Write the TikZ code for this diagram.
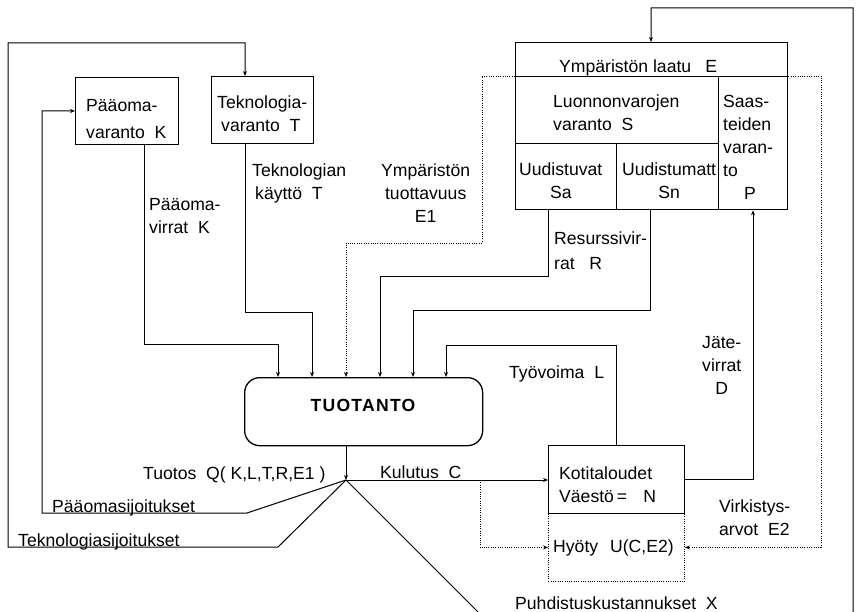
\documentclass[tikz,border=0pt]{standalone}
\usepackage{fontspec}
\setmainfont{Liberation Sans}
\usetikzlibrary{arrows.meta}
\newcommand{\mlL}[1]{\begin{tabular}[t]{@{}l@{}}#1\end{tabular}}
\newcommand{\mlC}[1]{\begin{tabular}[t]{@{}c@{}}#1\end{tabular}}
\begin{document}
\begin{tikzpicture}[x=1pt,y=-1pt,
  box/.style={draw,line width=1.3pt,inner sep=0pt,anchor=north west},
  dbox/.style={draw,line width=0.9pt,dash pattern=on 1pt off 1.3pt,inner sep=0pt,anchor=north west},
  conn/.style={line width=1pt},
  arr/.style={conn,-{Stealth[length=5pt,width=4pt]}},
  dot/.style={line width=0.9pt,dash pattern=on 1pt off 1.3pt},
  dotarr/.style={dot,-{Stealth[length=5pt,width=4pt]}},
  lbl/.style={inner sep=0pt,anchor=base west,font=\fontsize{17.6}{23}\selectfont}
]
\useasboundingbox (0,0) rectangle (859,612);

% boxes
\node[box,minimum width=103,minimum height=67] (pk) at (75,77) {};
\node[box,minimum width=102,minimum height=67] (tk) at (211,76) {};
\node[box,minimum width=272,minimum height=167] (env) at (515,42) {};
\node[box,minimum width=203,minimum height=67] (lv) at (515,76) {};
\node[box,minimum width=69,minimum height=133] (sp) at (718,76) {};
\node[box,minimum width=101,minimum height=66] (ua) at (515,143) {};
\node[box,minimum width=102,minimum height=66] (un) at (616,143) {};
\node[box,rounded corners=15pt,minimum width=238,minimum height=68] (tuo) at (244,377) {};
\node[dbox,minimum width=136,minimum height=68] (hyo) at (548,513) {};
\node[box,minimum width=136,minimum height=68] (koti) at (548,445) {};
\coordinate (J) at (346,480);

% connectors
\draw[arr] (J) -- (278,547) -| (8,43) -| (245,0 |- tk.north);
\draw[arr] (J) -- (247,513) -| (42,111) -- (pk.west |- 0,111);
\draw[arr] (144,0 |- pk.south) |- (278,344) -- (278,0 |- tuo.north);
\draw[arr] (245,0 |- tk.south) |- (312,312) -- (312,0 |- tuo.north);
\draw[dotarr] (env.west |- 0,76) -| (482,243) -| (346,0 |- tuo.north);
\draw[arr] (548,0 |- ua.south) |- (380,277) -- (380,0 |- tuo.north);
\draw[arr] (650,0 |- un.south) |- (413,310) -- (413,0 |- tuo.north);
\draw[arr] (616,0 |- koti.north) |- (446,345) -- (446,0 |- tuo.north);
\draw[arr] (346,0 |- tuo.south) -- (J);
\draw[arr] (J) -- (J -| koti.west);
\draw[dotarr] (480,0 |- J) |- (hyo.west);
\draw[arr] (koti.east |- 0,479) -| (753,0 |- sp.south);
\draw[dotarr] (env.east |- 0,76) -| (821,0 |- hyo.east) -- (hyo.east);
\draw[arr] (J) -- (490,624) -| (853,8) -| (651,0 |- env.north);

% labels
\node[lbl] (pkT) at (86,112) {\mlL{Pääoma-\\[4pt]varanto\ \ K}};
\node[lbl] (tkT) at (217,109) {\mlL{Teknologia-\\\hspace{4pt}varanto\ \ T}};
\node[lbl] (tkuT) at (252,177) {\mlL{Teknologian\\\hspace{3pt}käyttö\ \ T}};
\node[lbl] (pvT) at (149,211) {\mlL{Pääoma-\\virrat\ \ K}};
\node[lbl] (e1T) at (381,177) {\mlC{Ympäristön\\tuottavuus\\E1}};
\node[lbl] (elT) at (559,73) {Ympäristön laatu\hspace{14pt}E};
\node[lbl] (lvT) at (553,108) {\mlL{Luonnonvarojen\\varanto\ \ S}};
\node[lbl] (spT) at (723,108) {\mlL{Saas-\\teiden\\varan-\\to\\\hspace{21pt}P}};
\node[lbl] (uaT) at (519,176) {\mlC{Uudistuvat\\Sa}};
\node[lbl] (unT) at (622,176) {\mlC{Uudistumatt\\Sn}};
\node[lbl] (rT) at (554,245) {\mlL{Resurssivir-\\[2pt]rat\ \ \ R}};
\node[lbl] (tyT) at (509,378) {Työvoima\ \ L};
\node[lbl] (jT) at (702,348) {\mlC{Jäte-\\virrat\\D}};
\node[lbl] (qT) at (143,479) {Tuotos\ \ Q( K,L,T,R,E1 )};
\node[lbl] (kuT) at (380,478) {Kulutus\ \ C};
\node[lbl] (kotT) at (559,479) {\mlL{Kotitaloudet\\Väestö\hspace{3pt}=\hspace{16pt}N}};
\node[lbl] (hyT) at (553,552) {Hyöty\hspace{12pt}U(C,E2)};
\node[lbl] (viT) at (719,512) {\mlL{Virkistys-\\arvot\ \ E2}};
\node[lbl] (pmsT) at (52,512) {Pääomasijoitukset};
\node[lbl] (tksT) at (18,546) {Teknologiasijoitukset};
\node[lbl] (puT) at (515,609) {Puhdistuskustannukset\ \ X};
\node[inner sep=0pt,font=\fontsize{17.6}{20}\selectfont\bfseries\addfontfeature{LetterSpace=7}] (tuoT) at (363,405) {TUOTANTO};
\end{tikzpicture}
\end{document}
